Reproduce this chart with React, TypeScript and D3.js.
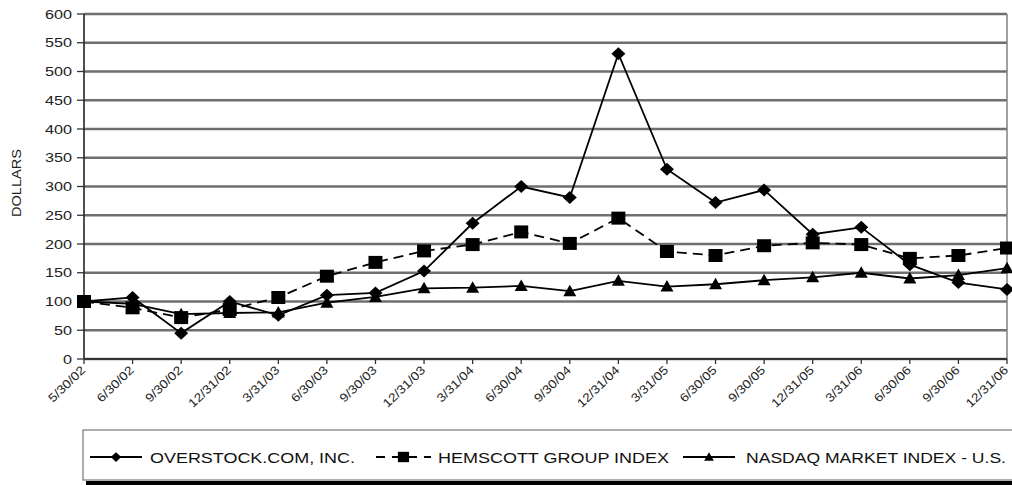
import React from "react";
import * as d3 from "d3";

const categories = [
  "5/30/02", "6/30/02", "9/30/02", "12/31/02", "3/31/03", "6/30/03", "9/30/03",
  "12/31/03", "3/31/04", "6/30/04", "9/30/04", "12/31/04", "3/31/05", "6/30/05",
  "9/30/05", "12/31/05", "3/31/06", "6/30/06", "9/30/06", "12/31/06",
];
const overstock = [100, 107, 45, 100, 76, 111, 115, 153, 236, 300, 281, 531, 330, 272, 294, 217, 229, 164, 133, 121];
const hemscott = [100, 89, 72, 86, 107, 144, 168, 188, 199, 221, 201, 245, 187, 180, 197, 202, 199, 175, 180, 193];
const nasdaq = [100, 96, 78, 80, 81, 98, 108, 123, 124, 127, 118, 136, 126, 130, 137, 142, 150, 140, 146, 158];
const yTicks = [0, 50, 100, 150, 200, 250, 300, 350, 400, 450, 500, 550, 600];
const seriesNames = ["OVERSTOCK.COM, INC.", "HEMSCOTT GROUP INDEX", "NASDAQ MARKET INDEX - U.S."];

const W = 1012, H = 485;
const FONT = "'Liberation Sans', Arial, Helvetica, sans-serif";

const x = d3.scalePoint<string>().domain(categories).range([84, 1007]);
const y = d3.scaleLinear().domain([0, 600]).range([359, 14]);

type Shape = "diamond" | "square" | "triangle";
function markerPath(shape: Shape): string {
  const p = d3.path();
  if (shape === "diamond") {
    p.moveTo(0, -6.5); p.lineTo(7, 0); p.lineTo(0, 6.5); p.lineTo(-7, 0); p.closePath();
  } else if (shape === "square") {
    p.rect(-7, -6.5, 14, 13);
  } else {
    p.moveTo(0, -6.5); p.lineTo(6.5, 5); p.lineTo(-6.5, 5); p.closePath();
  }
  return p.toString();
}

const series = [
  { name: seriesNames[0], values: overstock, shape: "diamond" as Shape, dash: undefined as string | undefined },
  { name: seriesNames[1], values: hemscott, shape: "square" as Shape, dash: "10,6" },
  { name: seriesNames[2], values: nasdaq, shape: "triangle" as Shape, dash: undefined as string | undefined },
];

const legendItems = [
  { x0: 90, x1: 142, tx: 150, tw: 205 },
  { x0: 376, x1: 431, tx: 438, tw: 231 },
  { x0: 683, x1: 735, tx: 746, tw: 260 },
];

export default function App() {
  const line = d3.line<number>().x((_, i) => x(categories[i]) as number).y((d) => y(d));
  const legendY = 457;
  return (
    <svg width={W} height={H} style={{ position: "absolute", left: 0, top: 0, background: "#fff" }}>
      {/* gridlines */}
      {yTicks.map((t) => (
        <line key={"g" + t} x1={84} x2={1007} y1={y(t)} y2={y(t)} stroke="#6f6f6f" strokeWidth={2.3} />
      ))}
      {/* right border */}
      <line x1={1007} x2={1007} y1={y(600)} y2={y(0)} stroke="#808080" strokeWidth={1.5} />
      {/* axes */}
      <line x1={84} x2={84} y1={y(600)} y2={y(0)} stroke="#222" strokeWidth={1.6} />
      <line x1={84} x2={1007} y1={y(0)} y2={y(0)} stroke="#333" strokeWidth={2.2} />
      {yTicks.map((t) => (
        <g key={"yt" + t}>
          <line x1={77} x2={84} y1={y(t)} y2={y(t)} stroke="#333" strokeWidth={1.3} />
          <text
            transform={`translate(72,${y(t) + 4.5}) scale(1.35,1)`}
            textAnchor="end"
            fontFamily={FONT}
            fontSize={12}
            fill="#222"
          >
            {t}
          </text>
        </g>
      ))}
      {categories.map((c) => {
        const cx = x(c) as number;
        return (
          <g key={"xt" + c}>
            <line x1={cx} x2={cx} y1={y(0)} y2={y(0) + 5} stroke="#333" strokeWidth={1.3} />
            <text
              transform={`translate(${cx + 2},${y(0) + 12}) rotate(-44) scale(1.15,1)`}
              textAnchor="end"
              fontFamily={FONT}
              fontSize={12}
              fill="#222"
            >
              {c}
            </text>
          </g>
        );
      })}
      <text
        transform={`translate(21,183) rotate(-90)`}
        textAnchor="middle"
        fontFamily={FONT}
        fontSize={12.5}
        textLength={68}
        lengthAdjust="spacingAndGlyphs"
        fill="#222"
      >
        DOLLARS
      </text>
      {/* series */}
      {series.map((s) => (
        <g key={s.name}>
          <path d={line(s.values) || ""} fill="none" stroke="#000" strokeWidth={1.8} strokeDasharray={s.dash} />
          {s.values.map((v, i) => (
            <path
              key={i}
              d={markerPath(s.shape)}
              transform={`translate(${x(categories[i])},${y(v)})`}
              fill="#000"
            />
          ))}
        </g>
      ))}
      {/* legend */}
      <rect x={86} y={481} width={W - 86} height={4} fill="#000" />
      <rect x={83} y={430} width={W - 83 + 5} height={50} fill="#fff" stroke="#777" strokeWidth={1.2} />
      {series.map((s, i) => {
        const it = legendItems[i];
        return (
          <g key={"lg" + i}>
            <line x1={it.x0} x2={it.x1} y1={legendY} y2={legendY} stroke="#000" strokeWidth={2} strokeDasharray={s.dash ? "9,7" : undefined} />
            <path
              d={markerPath(s.shape)}
              transform={`translate(${(it.x0 + it.x1) / 2},${legendY}) scale(${s.shape === "square" ? 0.8 : 0.75})`}
              fill="#000"
            />
            <text
              x={it.tx}
              y={legendY + 6}
              fontFamily={FONT}
              fontSize={15}
              textLength={it.tw}
              lengthAdjust="spacingAndGlyphs"
              fill="#111"
            >
              {s.name}
            </text>
          </g>
        );
      })}
    </svg>
  );
}
